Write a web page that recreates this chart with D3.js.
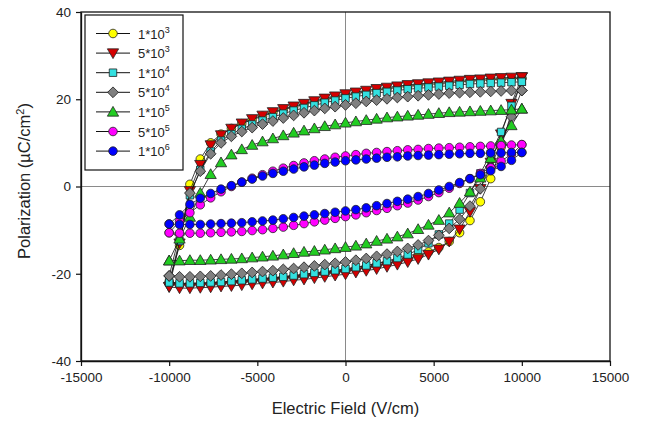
<!DOCTYPE html>
<html>
<head>
<meta charset="utf-8">
<script src="https://cdn.jsdelivr.net/npm/d3@7"></script>
<style>
html,body{margin:0;padding:0;background:#fff;}
svg{display:block;font-family:"Liberation Sans",Arial,sans-serif;}
</style>
</head>
<body>
<svg id="chart" width="649" height="425"></svg>
<script>
// Electric field grid (V/cm), same for upper and lower branches
const fieldValues = [-10000,-9412,-8824,-8235,-7647,-7059,-6471,-5882,-5294,-4706,-4118,-3529,-2941,-2353,-1765,-1176,-588,0,588,1176,1765,2353,2941,3529,4118,4706,5294,5882,6471,7059,7647,8235,8824,9412,10000];

const seriesNames = ["1*10|3","5*10|3","1*10|4","5*10|4","1*10|5","5*10|5","1*10|6"];

// Upper branch (field decreasing) listed in ascending field order; lower branch ascending
const up1e3 = [-22.0,-13.5,0.5,6.3,10.0,12.0,13.3,14.4,15.3,16.1,16.9,17.6,18.2,18.8,19.4,19.9,20.4,20.9,21.3,21.7,22.1,22.4,22.7,23.0,23.2,23.4,23.6,23.8,24.0,24.2,24.3,24.5,24.6,24.7,24.8];
const lo1e3 = [-22.0,-22.3,-22.4,-22.3,-22.2,-22.1,-21.9,-21.7,-21.5,-21.3,-21.1,-20.9,-20.7,-20.4,-20.1,-19.8,-19.5,-19.2,-18.9,-18.5,-18.1,-17.6,-17.1,-16.5,-15.8,-15.0,-14.0,-12.6,-10.6,-7.8,-3.5,1.8,9.0,17.0,24.8];

const up5e3 = [-23.0,-13.0,-1.0,5.0,9.5,11.8,13.3,14.5,15.5,16.3,17.1,17.8,18.4,19.0,19.6,20.2,20.7,21.2,21.6,22.0,22.4,22.7,23.0,23.3,23.5,23.7,23.9,24.1,24.3,24.5,24.6,24.8,24.9,25.0,25.1];
const lo5e3 = [-23.0,-23.3,-23.3,-23.2,-23.1,-22.9,-22.8,-22.6,-22.4,-22.2,-22.0,-21.8,-21.5,-21.3,-21.0,-20.7,-20.4,-20.1,-19.7,-19.3,-18.9,-18.4,-17.9,-17.3,-16.6,-15.6,-14.4,-12.6,-9.8,-5.8,-0.5,5.5,12.0,19.0,25.1];

const up1e4 = [-22.0,-12.5,-2.0,3.8,8.0,10.5,12.0,13.2,14.2,15.1,15.9,16.7,17.4,18.0,18.6,19.2,19.7,20.2,20.6,21.0,21.4,21.7,22.0,22.3,22.5,22.7,22.9,23.1,23.3,23.5,23.6,23.7,23.8,23.9,24.0];
const lo1e4 = [-22.0,-22.2,-22.2,-22.1,-22.0,-21.9,-21.7,-21.5,-21.3,-21.1,-20.9,-20.7,-20.4,-20.1,-19.8,-19.5,-19.2,-18.9,-18.5,-18.1,-17.6,-17.1,-16.4,-15.6,-14.5,-13.0,-11.0,-8.5,-5.3,-1.5,3.0,7.5,12.5,18.5,24.0];

const up5e4 = [-20.5,-11.0,-1.5,3.5,7.5,10.0,11.5,12.6,13.5,14.3,15.0,15.7,16.3,16.9,17.4,17.9,18.3,18.7,19.1,19.5,19.8,20.1,20.4,20.6,20.8,21.0,21.2,21.4,21.5,21.6,21.7,21.8,21.9,22.0,22.0];
const lo5e4 = [-20.5,-20.7,-20.7,-20.6,-20.5,-20.3,-20.1,-19.9,-19.7,-19.5,-19.3,-19.0,-18.8,-18.5,-18.2,-17.9,-17.6,-17.3,-16.9,-16.5,-16.0,-15.5,-14.9,-14.2,-13.4,-12.4,-11.2,-9.6,-7.5,-4.5,-0.5,4.5,10.0,16.0,22.0];

const up1e5 = [-17.0,-12.0,-7.0,-1.5,2.8,5.5,7.3,8.5,9.5,10.3,11.0,11.7,12.3,12.8,13.3,13.8,14.2,14.6,14.9,15.2,15.5,15.8,16.0,16.2,16.4,16.6,16.8,17.0,17.1,17.2,17.3,17.4,17.5,17.6,17.8];
const lo1e5 = [-17.0,-17.0,-16.9,-16.9,-16.8,-16.7,-16.6,-16.5,-16.3,-16.1,-15.9,-15.6,-15.3,-15.0,-14.8,-14.5,-14.2,-13.9,-13.6,-13.1,-12.5,-12.0,-11.5,-10.8,-9.8,-8.8,-7.7,-6.0,-3.8,-1.2,2.0,6.5,10.5,14.0,17.8];

const up5e5 = [-10.6,-8.0,-6.0,-4.2,-2.6,-1.2,0.0,1.0,1.9,2.7,3.5,4.2,4.8,5.4,5.9,6.3,6.7,7.0,7.3,7.6,7.8,8.0,8.2,8.4,8.5,8.7,8.8,8.9,9.0,9.1,9.2,9.3,9.4,9.5,9.6];
const lo5e5 = [-10.6,-10.7,-10.7,-10.7,-10.6,-10.5,-10.4,-10.3,-10.1,-9.9,-9.6,-9.3,-8.9,-8.5,-8.1,-7.7,-7.3,-6.9,-6.5,-6.0,-5.5,-5.0,-4.4,-3.8,-3.1,-2.3,-1.4,-0.4,0.7,1.8,3.0,4.3,5.8,7.4,9.6];

const up1e6 = [-8.6,-6.5,-4.1,-2.7,-1.6,-0.6,0.2,1.0,1.7,2.4,3.0,3.5,4.0,4.5,4.9,5.3,5.6,5.9,6.1,6.3,6.5,6.7,6.8,7.0,7.1,7.2,7.3,7.4,7.5,7.6,7.6,7.7,7.7,7.8,7.8];
const lo1e6 = [-8.6,-8.7,-8.7,-8.7,-8.6,-8.5,-8.4,-8.3,-8.1,-7.9,-7.7,-7.4,-7.1,-6.8,-6.5,-6.2,-5.9,-5.6,-5.3,-4.9,-4.4,-3.9,-3.4,-2.9,-2.3,-1.6,-0.8,0.0,0.9,1.8,2.7,3.6,4.6,6.0,7.8];

const upperBranches = [up1e3, up5e3, up1e4, up5e4, up1e5, up5e5, up1e6];
const lowerBranches = [lo1e3, lo5e3, lo1e4, lo5e4, lo1e5, lo5e5, lo1e6];

const xTicks = [-15000,-10000,-5000,0,5000,10000,15000];
const yTicks = [-40,-20,0,20,40];

// styles
const fills = ["#ffff00","#d40000","#33e0e0","#808080","#22cc22","#ff00ff","#0000ff"];
const shapes = ["circle","triDown","square","diamond","triUp","circle","circle"];

const svg = d3.select("#chart");
const L = 81, R = 610, T = 12, B = 361;
const x = d3.scaleLinear().domain([-15000,15000]).range([L,R]);
const y = d3.scaleLinear().domain([-40,40]).range([B,T]);

// zero crosshairs
svg.append("line").attr("x1",L).attr("x2",R).attr("y1",y(0)).attr("y2",y(0))
  .attr("stroke","#8a8a8a").attr("stroke-width",1);
svg.append("line").attr("x1",x(0)).attr("x2",x(0)).attr("y1",T).attr("y2",B)
  .attr("stroke","#8a8a8a").attr("stroke-width",1);

function symbolPath(kind){
  if(kind==="circle") return d3.symbol(d3.symbolCircle,58)();
  if(kind==="square") return d3.symbol(d3.symbolSquare,56)();
  if(kind==="diamond") return d3.symbol(d3.symbolSquare,58)();
  return d3.symbol(d3.symbolTriangle,55)();
}
function symbolTransform(kind,px,py){
  let t = `translate(${px},${py})`;
  if(kind==="triDown") t += " rotate(180)";
  if(kind==="diamond") t += " rotate(45)";
  if(kind==="triUp"||kind==="triDown") t += " translate(0,1)";
  return t;
}

const line = d3.line().x(d=>x(d[0])).y(d=>y(d[1]));

const plot = svg.append("g");
upperBranches.forEach((up,i)=>{
  const lo = lowerBranches[i];
  const pts = [];
  for(let k=fieldValues.length-1;k>=0;k--) pts.push([fieldValues[k], up[k]]);
  for(let k=0;k<fieldValues.length;k++) pts.push([fieldValues[k], lo[k]]);
  const g = plot.append("g");
  g.append("path").attr("d",line(pts)).attr("fill","none").attr("stroke","#111").attr("stroke-width",0.8);
  g.selectAll("path.m").data(pts).join("path").attr("class","m")
    .attr("d",symbolPath(shapes[i]))
    .attr("transform",d=>symbolTransform(shapes[i],x(d[0]),y(d[1])))
    .attr("fill",fills[i]).attr("stroke","#222").attr("stroke-width",0.8);
});

// frame
svg.append("rect").attr("x",L).attr("y",T).attr("width",R-L).attr("height",B-T)
  .attr("fill","none").attr("stroke","#111").attr("stroke-width",1.3);

// axes
const xAxis = svg.append("g").attr("transform",`translate(0,${B})`)
  .call(d3.axisBottom(x).tickValues(xTicks).tickFormat(d=>String(d)).tickSize(5).tickSizeOuter(0).tickPadding(6));
const yAxis = svg.append("g").attr("transform",`translate(${L},0)`)
  .call(d3.axisLeft(y).tickValues(yTicks).tickFormat(d=>String(d)).tickSize(5).tickSizeOuter(0).tickPadding(5));
[xAxis,yAxis].forEach(a=>{
  a.select(".domain").attr("stroke","#111").attr("stroke-width",1.3);
  a.selectAll(".tick line").attr("stroke","#111").attr("stroke-width",1.2);
  a.selectAll(".tick text").attr("fill","#222").style("font-size","13.5px").style("font-family","'Liberation Sans',Arial,sans-serif");
});

// axis titles
svg.append("text").attr("x",x(0)).attr("y",414).attr("text-anchor","middle")
  .style("font-size","16.5px").attr("fill","#222").text("Electric Field (V/cm)");
const yt = svg.append("text").attr("transform","translate(30,181) rotate(-90)")
  .attr("text-anchor","middle").style("font-size","16.5px").attr("fill","#222");
yt.append("tspan").text("Polarization (\u00B5C/cm");
yt.append("tspan").attr("dy",-6).style("font-size","11px").text("2");
yt.append("tspan").attr("dy",6).text(")");

// legend
const lg = svg.append("g");
lg.append("rect").attr("x",85).attr("y",15).attr("width",98).attr("height",155)
  .attr("fill","#fff").attr("stroke","#111").attr("stroke-width",1.2);
seriesNames.forEach((nm,i)=>{
  const ry = 33.5 + i*19.6;
  lg.append("line").attr("x1",96).attr("x2",130).attr("y1",ry).attr("y2",ry).attr("stroke","#111").attr("stroke-width",1);
  lg.append("path").attr("d",symbolPath(shapes[i])).attr("transform",symbolTransform(shapes[i],113,ry))
    .attr("fill",fills[i]).attr("stroke","#222").attr("stroke-width",0.8);
  const parts = nm.split("|");
  const t = lg.append("text").attr("x",138).attr("y",ry+5).style("font-size","13px").attr("fill","#222");
  t.append("tspan").text(parts[0]);
  t.append("tspan").attr("dy",-6).style("font-size","9px").text(parts[1]);
});
</script>
</body>
</html>
